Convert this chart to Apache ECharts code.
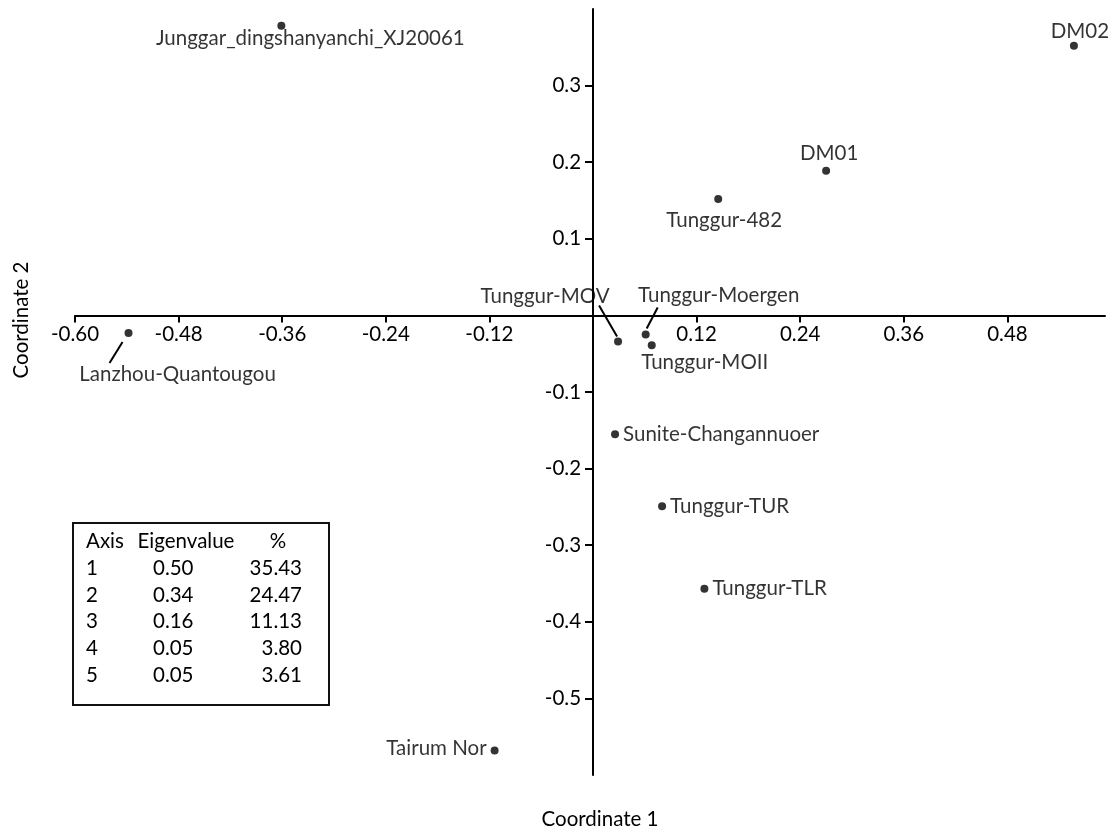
<!DOCTYPE html>
<html><head><meta charset="utf-8">
<script src="https://cdn.jsdelivr.net/npm/echarts@6/dist/echarts.min.js"></script>
<style>html,body{margin:0;padding:0;background:#fff}#c{width:1108px;height:830px}</style>
</head><body><div id="c"></div>
<script>
// ---- data ----
const samples = ['Junggar_dingshanyanchi_XJ20061','DM02','DM01','Tunggur-482','Tunggur-MOV','Tunggur-Moergen','Tunggur-MOII','Sunite-Changannuoer','Tunggur-TUR','Tunggur-TLR','Tairum Nor','Lanzhou-Quantougou'];
const coord1 = [-0.361, 0.557, 0.270, 0.145, 0.029, 0.061, 0.068, 0.0255, 0.080, 0.129, -0.114, -0.538];
const coord2 = [0.378, 0.352, 0.189, 0.152, -0.034, -0.025, -0.039, -0.155, -0.249, -0.357, -0.568, -0.023];
const xTicks = [-0.60, -0.48, -0.36, -0.24, -0.12, 0.12, 0.24, 0.36, 0.48];
const yTicks = [0.3, 0.2, 0.1, -0.1, -0.2, -0.3, -0.4, -0.5];
const tableHeader = ['Axis', 'Eigenvalue', '%'];
const tableAxis = ['1', '2', '3', '4', '5'];
const tableEigen = ['0.50', '0.34', '0.16', '0.05', '0.05'];
const tablePct = ['35.43', '24.47', '11.13', '3.80', '3.61'];

// ---- layout / style ----
const FONT = 'Lato, "Noto Sans", sans-serif';
const FS = 20.5;
const TXT = '#000';
const X_MIN = -0.6, X_MAX = 0.593, Y_MIN = -0.6, Y_MAX = 0.4;
const G = { left: 75, right: 3, top: 9, bottom: 55 };
const W = 1108, H = 830;
const gw = W - G.left - G.right, gh = H - G.top - G.bottom;
// offsets that place each axis on the other's zero line
const xAxisOffset = -((0 - Y_MIN) / (Y_MAX - Y_MIN)) * gh;
const yAxisOffset = -((0 - X_MIN) / (X_MAX - X_MIN)) * gw;

// [position, dx, dy]
const labelPlace = [
  ['inside', 29, 13],
  ['inside', 6, -14],
  ['inside', 3, -17],
  ['inside', 6, 21],
  ['inside', -73, -45],
  ['inside', 73, -39],
  ['inside', 53, 17],
  ['right', 0, 0],
  ['right', 0, 0],
  ['right', 0, 0],
  ['left', 0, -2],
  ['inside', 49, 41]
];
// leader lines: sample index, pixel offsets from the point [x1,y1,x2,y2]
const leaderIdx = [4, 5, 11];
const leaderOff = [[-19, -36, -1, -5], [12, -27, 1, -6], [-6, 9, -19, 30]];

const points = samples.map((name, i) => ({
  name: name,
  value: [coord1[i], coord2[i]],
  label: { position: labelPlace[i][0], distance: 4 }
}));

const tableTexts = [];
const rowY0 = 541.5, rowH = 26.7;
function tt(x, y, text, align) {
  return { type: 'text', x: x, y: y, style: { text: text, font: FS + 'px ' + FONT, fill: TXT, textAlign: align, textVerticalAlign: 'middle' } };
}
tableTexts.push(tt(86, rowY0, tableHeader[0], 'left'));
tableTexts.push(tt(186, rowY0, tableHeader[1], 'center'));
tableTexts.push(tt(278, rowY0, tableHeader[2], 'center'));
tableAxis.forEach((a, i) => {
  const y = rowY0 + (i + 1) * rowH;
  tableTexts.push(tt(86, y, a, 'left'));
  tableTexts.push(tt(153, y, tableEigen[i], 'left'));
  tableTexts.push(tt(302, y, tablePct[i], 'right'));
});

const chart = echarts.init(document.getElementById('c'), null, { renderer: 'canvas' });
chart.setOption({
  animation: false,
  backgroundColor: '#fff',
  grid: { left: G.left, right: G.right, top: G.top, bottom: G.bottom, containLabel: false },
  xAxis: {
    type: 'value', min: X_MIN, max: X_MAX, position: 'bottom', offset: xAxisOffset,
    axisLine: { show: true, onZero: false, lineStyle: { color: '#000', width: 2 } },
    axisTick: { show: true, customValues: xTicks, length: 7, lineStyle: { color: '#000', width: 2 } },
    axisLabel: { customValues: xTicks, margin: 8, color: TXT, fontFamily: FONT, fontSize: FS, formatter: v => v.toFixed(2) },
    splitLine: { show: false }
  },
  yAxis: {
    type: 'value', min: Y_MIN, max: Y_MAX, position: 'left', offset: yAxisOffset,
    axisLine: { show: true, onZero: false, lineStyle: { color: '#000', width: 2 } },
    axisTick: { show: true, customValues: yTicks, length: 8, lineStyle: { color: '#000', width: 2 } },
    axisLabel: { customValues: yTicks, margin: 12, color: TXT, fontFamily: FONT, fontSize: FS, formatter: v => v.toFixed(1) },
    splitLine: { show: false }
  },
  series: [{
    type: 'scatter',
    symbol: 'circle',
    symbolSize: 8,
    itemStyle: { color: '#000' },
    data: points,
    label: { show: true, formatter: '{b}', color: TXT, fontFamily: FONT, fontSize: FS },
    labelLayout: function (p) {
      const o = labelPlace[p.dataIndex];
      return { dx: o[1], dy: o[2] };
    },
    z: 3
  }, {
    type: 'custom',
    data: leaderIdx.map(i => [coord1[i], coord2[i]]),
    renderItem: function (params, api) {
      const c = api.coord([api.value(0), api.value(1)]);
      const o = leaderOff[params.dataIndex];
      return {
        type: 'line',
        shape: { x1: c[0] + o[0], y1: c[1] + o[1], x2: c[0] + o[2], y2: c[1] + o[3] },
        style: { stroke: '#000', lineWidth: 2 }
      };
    },
    z: 2
  }],
  graphic: [
    { type: 'rect', shape: { x: 73, y: 523, width: 256, height: 182 }, style: { fill: 'none', stroke: '#111', lineWidth: 2 } },
    ...tableTexts,
    { type: 'text', x: 600, y: 819, style: { text: 'Coordinate 1', font: FS + 'px ' + FONT, fill: TXT, textAlign: 'center', textVerticalAlign: 'middle' } },
    { type: 'text', x: 21, y: 320, rotation: Math.PI / 2, style: { text: 'Coordinate 2', font: FS + 'px ' + FONT, fill: TXT, textAlign: 'center', textVerticalAlign: 'middle' } }
  ]
});
</script>
</body></html>
